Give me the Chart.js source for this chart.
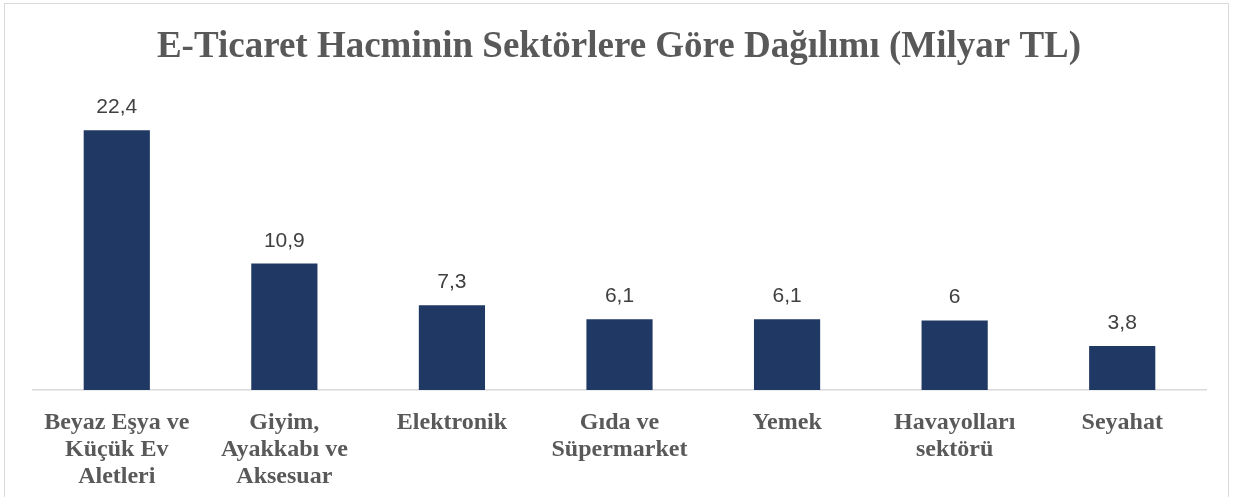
<!DOCTYPE html>
<html>
<head>
<meta charset="utf-8">
<script src="https://cdn.jsdelivr.net/npm/chart.js@4/dist/chart.umd.min.js"></script>
<style>
html,body{margin:0;padding:0;background:#fff;overflow:hidden;}
#frame{position:absolute;left:4px;top:3px;width:1225px;height:520px;border:1px solid #D9D9D9;box-sizing:border-box;}
#wrap{position:absolute;left:0;top:0;width:1235px;height:497px;}
</style>
</head>
<body>
<div id="frame"></div>
<div id="wrap"><canvas id="c" width="1235" height="497"></canvas></div>
<script>
const titleText = "E-Ticaret Hacminin Sektörlere Göre Dağılımı (Milyar TL)";
const categories = [
  ["Beyaz Eşya ve", "Küçük Ev", "Aletleri"],
  ["Giyim,", "Ayakkabı ve", "Aksesuar"],
  ["Elektronik"],
  ["Gıda ve", "Süpermarket"],
  ["Yemek"],
  ["Havayolları", "sektörü"],
  ["Seyahat"]
];
const values = [22.4, 10.9, 7.3, 6.1, 6.1, 6, 3.8];
const yMin = 0;
const yMax = 25;

const fmt = v => String(v).replace('.', ',');

const decor = {
  id: 'decor',
  afterDatasetsDraw(chart) {
    const ctx = chart.ctx;
    ctx.save();
    // data labels
    const meta = chart.getDatasetMeta(0);
    ctx.fillStyle = '#404040';
    ctx.font = '21px "Liberation Sans", Arial, sans-serif';
    ctx.textAlign = 'center';
    ctx.textBaseline = 'alphabetic';
    meta.data.forEach((bar, i) => {
      ctx.fillText(fmt(values[i]), bar.x, bar.y - 17);
    });
    // title
    ctx.fillStyle = '#595959';
    ctx.font = 'bold 37px "Liberation Serif", "Times New Roman", serif';
    ctx.fillText(titleText, 619, 57);
    ctx.restore();
  }
};

new Chart(document.getElementById('c'), {
  type: 'bar',
  data: {
    labels: categories,
    datasets: [{
      data: values,
      backgroundColor: '#203864',
      borderWidth: 0,
      barPercentage: 0.395,
      categoryPercentage: 1.0
    }]
  },
  options: {
    responsive: false,
    animation: false,
    devicePixelRatio: 1,
    layout: { padding: { left: 33, right: 29, top: 100, bottom: 0 } },
    plugins: { legend: { display: false }, tooltip: { enabled: false }, title: { display: false } },
    scales: {
      x: {
        grid: { display: false, drawTicks: false },
        border: { display: true, color: '#D9D9D9', width: 1.5 },
        ticks: {
          color: '#595959',
          padding: 19,
          maxRotation: 0,
          autoSkip: false,
          font: { family: '"Liberation Serif", "Times New Roman", serif', size: 24, weight: 'bold', lineHeight: 1.125 }
        },
        afterFit(scale) { scale.height = 107; }
      },
      y: {
        display: false,
        min: yMin,
        max: yMax
      }
    }
  },
  plugins: [decor]
});
</script>
</body>
</html>
